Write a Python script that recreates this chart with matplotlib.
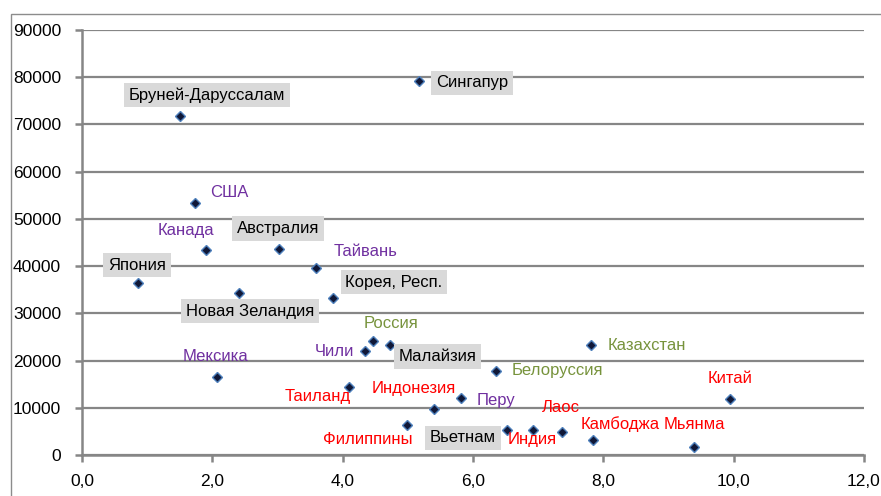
import matplotlib
matplotlib.use("Agg")
import matplotlib.pyplot as plt
from matplotlib.patches import Rectangle
from matplotlib.ticker import FuncFormatter

plt.rcParams['font.family'] = ['Liberation Sans', 'DejaVu Sans']

# ---- data ----
countries = ["Бруней-Даруссалам", "Сингапур", "США", "Канада", "Австралия", "Тайвань",
             "Япония", "Новая Зеландия", "Корея, Респ.", "Россия", "Чили", "Малайзия",
             "Белоруссия", "Казахстан", "Китай", "Мьянма", "Камбоджа", "Лаос", "Индия",
             "Вьетнам", "Филиппины", "Индонезия", "Перу", "Таиланд", "Мексика"]
x_values = [1.50, 5.17, 1.73, 1.91, 3.02, 3.59,
            0.86, 2.41, 3.85, 4.47, 4.35, 4.72,
            6.36, 7.81, 9.95, 9.39, 7.84, 7.36, 6.92,
            6.52, 4.98, 5.40, 5.81, 4.10, 2.07]
y_values = [71800, 79200, 53400, 43400, 43700, 39700,
            36400, 34300, 33200, 24100, 22000, 23200,
            17800, 23200, 11800, 1700, 3200, 4900, 5300,
            5300, 6300, 9700, 12000, 14400, 16500]
groups = ["box", "box", "purple", "purple", "box", "purple",
          "box", "box", "box", "green", "purple", "box",
          "green", "green", "red", "red", "red", "red", "red",
          "box", "red", "red", "purple", "red", "purple"]
x_ticks = [0, 2, 4, 6, 8, 10, 12]
y_ticks = [0, 10000, 20000, 30000, 40000, 50000, 60000, 70000, 80000, 90000]

# ---- label placement (offset of label centre from point, in pixels; +y = up) ----
label_offsets = {
    "Бруней-Даруссалам": (27, 21), "Сингапур": (53, -2), "США": (35, 10),
    "Канада": (-21, 20), "Австралия": (-1, 20), "Тайвань": (50, 16),
    "Япония": (-1, 18), "Новая Зеландия": (11, -18), "Корея, Респ.": (61, 16),
    "Россия": (18, 18), "Чили": (-31, 0), "Малайзия": (48, -11),
    "Белоруссия": (61, 0), "Казахстан": (56, 0), "Китай": (0, 21),
    "Мьянма": (0, 22), "Камбоджа": (27, 16), "Лаос": (-1, 24),
    "Индия": (-1, -10), "Вьетнам": (-44, -8), "Филиппины": (-39, -14),
    "Индонезия": (-20, 21), "Перу": (35, -2), "Таиланд": (-31, -9),
    "Мексика": (-1, 21),
}
text_colors = {"box": "#000000", "purple": "#7030a0", "green": "#77933c", "red": "#ff0000"}

W, H = 881, 496
fig = plt.figure(figsize=(W / 100, H / 100), dpi=100)
fig.patch.set_facecolor("white")
ax = fig.add_axes([82 / W, (H - 455) / H, (864 - 82) / W, (455 - 30) / H])

grid_c = "#868686"
ax.set_xlim(0, 12)
ax.set_ylim(0, 90000)
ax.set_xticks(x_ticks)
ax.set_yticks(y_ticks)
ax.xaxis.set_major_formatter(FuncFormatter(lambda v, p: f"{v:.1f}".replace(".", ",")))
ax.yaxis.set_major_formatter(FuncFormatter(lambda v, p: f"{int(v)}"))
ax.grid(axis="y", color=grid_c, linewidth=1.6)
ax.set_axisbelow(True)
for s in ["top", "right"]:
    ax.spines[s].set_visible(False)
for s in ["left", "bottom"]:
    ax.spines[s].set_color(grid_c)
    ax.spines[s].set_linewidth(1.8)
ax.tick_params(axis="both", colors=grid_c, width=1.8, length=5, labelcolor="black",
               labelsize=12.5)
ax.tick_params(axis="y", pad=10)
ax.tick_params(axis="x", pad=9)

ax.plot(x_values, y_values, linestyle="none", marker="D", markersize=4.8,
        markerfacecolor="#101838", markeredgecolor="#4f81bd", markeredgewidth=1.0,
        zorder=5, clip_on=False)

for name, xv, yv, g in zip(countries, x_values, y_values, groups):
    dx, dy = label_offsets[name]
    kw = {}
    if g == "box":
        kw["bbox"] = dict(boxstyle="square,pad=0.28", facecolor="#d9d9d9", edgecolor="none")
    ax.annotate(name, (xv, yv), xytext=(dx * 0.72, dy * 0.72), textcoords="offset points",
                ha="center", va="center", fontsize=12, color=text_colors[g],
                zorder=6, **kw)

fig.patches.append(Rectangle((11 / W, -0.1), 1.2, (H - 14) / H + 0.1,
                             transform=fig.transFigure, fill=False,
                             edgecolor="#8c8c8c", linewidth=1.0))

fig.savefig("out.png", dpi=100)
